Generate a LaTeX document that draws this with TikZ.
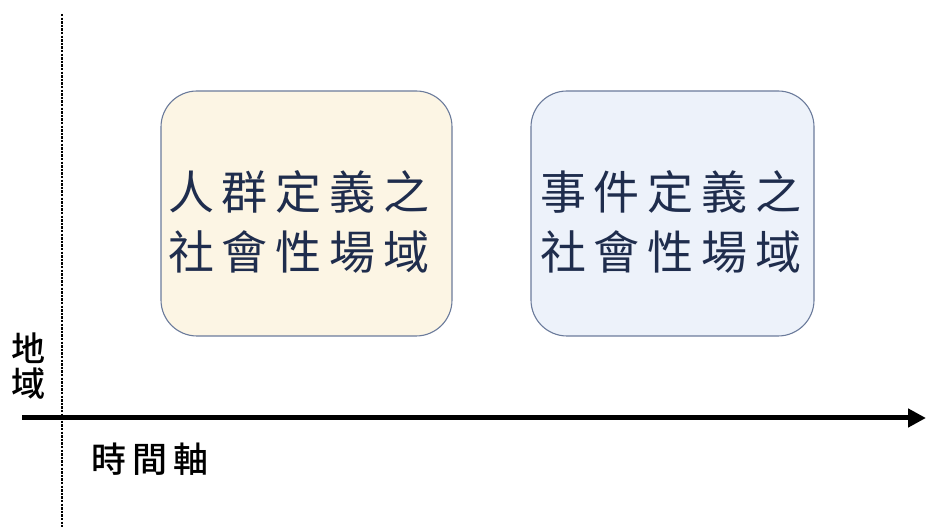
\documentclass[tikz,border=0pt]{standalone}
\usepackage{fontspec}
\newfontfamily\cjk{Noto Sans CJK TC}
\newfontfamily\cjkmed{Noto Sans CJK TC Medium}
\usetikzlibrary{arrows.meta}
\definecolor{boxline}{HTML}{6B7B9B}
\definecolor{creamfill}{HTML}{FCF5E4}
\definecolor{bluefill}{HTML}{EDF2FA}
\definecolor{navytext}{HTML}{1F2D4D}
\newcommand{\chgap}{\hspace{8pt}}
\tikzset{
  fieldbox/.style={draw=boxline, line width=1.1pt, rounded corners=36pt, minimum width=291pt, minimum height=245pt, inner sep=0pt},
  fieldtext/.style={font=\cjk\fontsize{46}{60}\selectfont, text=navytext, align=center},
  axislabel/.style={font=\cjkmed\fontsize{34}{35}\selectfont, text=black, align=center, inner sep=0pt},
}
\begin{document}
\begin{tikzpicture}[x=1pt,y=1pt]
\useasboundingbox (0,0) rectangle (928,527);
% boxes (y flipped: ty = 527 - y)
\node[fieldbox, fill=creamfill] (b1) at (306.5,313.5) {};
\node[fieldbox, fill=bluefill, minimum width=283pt] (b2) at (672.5,313.5) {};
\node[fieldtext] (t1) at (299,305) {人\chgap 群\chgap 定\chgap 義\chgap 之\\社\chgap 會\chgap 性\chgap 場\chgap 域};
\node[fieldtext] (t2) at (671,305) {事\chgap 件\chgap 定\chgap 義\chgap 之\\社\chgap 會\chgap 性\chgap 場\chgap 域};
% axes
\coordinate (vtop) at (62,513);
\coordinate (vbot) at (62,0);
\coordinate (hl) at (22,109);
\coordinate (hr) at (926,109);
\draw[line width=2.6pt, dash pattern=on 2.4pt off 1.2pt] (vtop) -- (vbot);
\draw[line width=5pt, -{Triangle[length=18pt,width=18pt]}] (hl) -- (hr);
\node[axislabel] (geo) at (29,161) {地\\域};
\node[axislabel, anchor=west, font=\cjkmed\fontsize{35}{35}\selectfont] (time) at (91,68) {時\hspace{6pt}間\hspace{6pt}軸};
\end{tikzpicture}
\end{document}
